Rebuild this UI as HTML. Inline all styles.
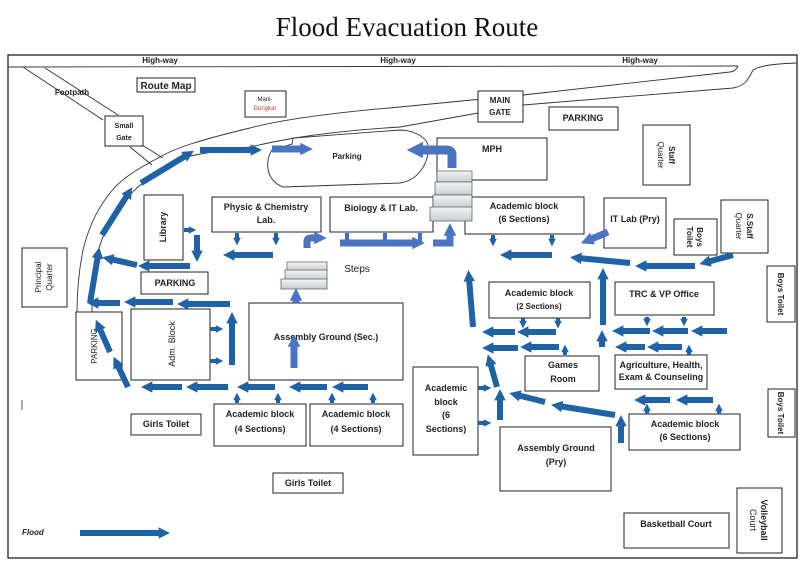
<!DOCTYPE html>
<html><head><meta charset="utf-8"><style>
body{margin:0;background:#fff;}
svg{display:block;font-family:"Liberation Sans",sans-serif;}
.b{fill:#fff;stroke:#222;stroke-width:1;}
.t{font-size:9px;font-weight:bold;fill:#222;text-anchor:middle;}
.ar{stroke:#1f62a6;stroke-width:6;fill:none;marker-end:url(#m);}
.as{stroke:#1f62a6;stroke-width:4;fill:none;marker-end:url(#m);}
.al{stroke:#4a74c0;stroke-width:7;fill:none;marker-end:url(#m2);}
.rd{fill:none;stroke:#333;stroke-width:0.9;}
</style></head><body>
<svg width="807" height="570" viewBox="0 0 807 570">
<defs>
<marker id="m" viewBox="0 0 10 10" refX="3" refY="5" markerWidth="1.9" markerHeight="1.9" orient="auto"><path d="M0,0L10,5L0,10z" fill="#1f62a6"/></marker>
<marker id="m2" viewBox="0 0 10 10" refX="3" refY="5" markerWidth="1.8" markerHeight="1.8" orient="auto"><path d="M0,0L10,5L0,10z" fill="#4a74c0"/></marker>
<linearGradient id="g" x1="0" y1="0" x2="0" y2="1"><stop offset="0" stop-color="#f4f4f4"/><stop offset="1" stop-color="#c8cdd6"/></linearGradient>
</defs>
<text x="407" y="36" font-family="Liberation Serif,serif" font-size="27" text-anchor="middle" fill="#111">Flood Evacuation Route</text>
<rect x="8" y="55" width="789" height="503" fill="none" stroke="#111" stroke-width="1.2"/>
<path class="rd" d="M8,67 L738,66"/>
<path class="rd" d="M753,70 C760,66 770,64 797,63"/>
<text x="160" y="63" class="t" style="font-size:8px">High-way</text>
<text x="398" y="63" class="t" style="font-size:8px">High-way</text>
<text x="640" y="63" class="t" style="font-size:8px">High-way</text>
<path class="rd" d="M738,66 C736,70 733,72 730,72 L523,95 L400,107 C330,113 280,120 250,128 C200,140 175,148 160,157 C135,170 120,180 110,193 C95,212 88,230 83,250 C79,270 77,290 77,312"/>
<path class="rd" d="M753,70 C748,80 745,86 733,88 L523,105 L400,127 C320,132 280,140 250,147 C210,152 190,155 177,160 C150,175 130,192 120,207 C108,225 100,240 97,257 C93,275 92,290 92,312"/>
<path class="rd" d="M23,67 L103,120 M45,68 L118,115 M130,147 L152,165 M142,145 L163,158"/>
<text x="72" y="95" class="t" style="font-size:8px">Footpath</text>
<path class="rd" d="M272,150 C265,160 265,180 283,187 L400,183 C420,180 430,160 428,145 C425,135 410,130 400,130 L293,138 L292,144 Z"/>
<text x="347" y="159" class="t" style="font-size:8px">Parking</text>
<rect class="b" x="137" y="78" width="58" height="14"/><text x="166" y="89" class="t" style="font-size:10px">Route Map</text>
<rect class="b" x="245" y="91" width="41" height="26" stroke="#999"/><text x="265" y="101" class="t" style="font-size:6px;font-weight:normal">Mani-</text><text x="265" y="110" class="t" style="font-size:6px;font-weight:normal;fill:#c33">Dungkar</text>
<rect class="b" x="105" y="116" width="38" height="30"/><text x="124" y="128" class="t" style="font-size:7px">Small</text><text x="124" y="140" class="t" style="font-size:7px">Gate</text>
<rect class="b" x="478" y="91" width="45" height="31"/><text x="500" y="103" class="t" style="font-size:8px">MAIN</text><text x="500" y="115" class="t" style="font-size:8px">GATE</text>
<rect class="b" x="549" y="107" width="69" height="23"/><text x="583" y="121" class="t">PARKING</text>
<rect class="b" x="437" y="138" width="110" height="42"/><text x="492" y="152" class="t">MPH</text>
<rect class="b" x="643" y="125" width="47" height="60"/><text transform="translate(666,155) rotate(90)" x="0" y="-3" class="t" style="font-size:8px">Staff</text><text transform="translate(666,155) rotate(90)" x="0" y="8" class="t" style="font-size:8px;font-weight:normal">Quarter</text>
<rect class="b" x="144" y="195" width="39" height="65"/><text transform="translate(163,227) rotate(-90)" y="3" class="t">Library</text>
<rect class="b" x="212" y="197" width="109" height="35"/><text x="266" y="210" class="t">Physic &amp; Chemistry</text><text x="266" y="223" class="t">Lab.</text>
<rect class="b" x="330" y="197" width="103" height="35"/><text x="381" y="211" class="t">Biology &amp; IT Lab.</text>
<rect class="b" x="465" y="197" width="119" height="37"/><text x="524" y="209" class="t">Academic block</text><text x="524" y="222" class="t">(6 Sections)</text>
<rect class="b" x="604" y="198" width="62" height="50"/><text x="635" y="222" class="t">IT Lab (Pry)</text>
<rect class="b" x="674" y="219" width="43" height="36"/><text transform="translate(695,237) rotate(90)" y="-2" class="t" style="font-size:8px">Boys</text><text transform="translate(695,237) rotate(90)" y="8" class="t" style="font-size:8px">Toilet</text>
<rect class="b" x="721" y="200" width="47" height="53"/><text transform="translate(744,226) rotate(90)" y="-3" class="t" style="font-size:8px">S.Staff</text><text transform="translate(744,226) rotate(90)" y="8" class="t" style="font-size:8px;font-weight:normal">Quarter</text>
<rect class="b" x="22" y="248" width="45" height="59"/><text transform="translate(44,277) rotate(-90)" y="-3" class="t" style="font-size:8px;font-weight:normal">Principal</text><text transform="translate(44,277) rotate(-90)" y="8" class="t" style="font-size:8px;font-weight:normal">Quarter</text>
<rect class="b" x="141" y="272" width="67" height="22"/><text x="175" y="286" class="t">PARKING</text>
<text x="357" y="272" class="t" style="font-size:10px;font-weight:normal">Steps</text>
<rect class="b" x="767" y="266" width="28" height="56"/><text transform="translate(781,294) rotate(90)" y="3" class="t" style="font-size:8px">Boys Toilet</text>
<rect class="b" x="76" y="312" width="46" height="68"/><text transform="translate(94,346) rotate(-90)" y="3" class="t" style="font-size:8px;font-weight:normal">PARKING</text>
<rect class="b" x="131" y="309" width="79" height="71"/><text transform="translate(172,344) rotate(-90)" y="3" class="t" style="font-size:9px;font-weight:normal">Adm. Block</text>
<rect class="b" x="249" y="303" width="154" height="77"/><text x="326" y="340" class="t">Assembly Ground (Sec.)</text>
<rect class="b" x="489" y="282" width="101" height="36"/><text x="539" y="296" class="t">Academic block</text><text x="539" y="309" class="t" style="font-size:8px">(2 Sections)</text>
<rect class="b" x="615" y="282" width="99" height="33"/><text x="664" y="297" class="t">TRC &amp; VP Office</text>
<rect class="b" x="525" y="356" width="74" height="35"/><text x="563" y="368" class="t">Games</text><text x="563" y="382" class="t">Room</text>
<rect class="b" x="615" y="355" width="92" height="34"/><text x="661" y="368" class="t">Agriculture, Health,</text><text x="661" y="380" class="t">Exam &amp; Counseling</text>
<rect class="b" x="413" y="367" width="65" height="88"/><text x="446" y="391" class="t">Academic</text><text x="446" y="405" class="t">block</text><text x="446" y="418" class="t">(6</text><text x="446" y="432" class="t">Sections)</text>
<rect class="b" x="500" y="427" width="111" height="64"/><text x="556" y="451" class="t">Assembly Ground</text><text x="556" y="465" class="t">(Pry)</text>
<rect class="b" x="629" y="414" width="111" height="36"/><text x="685" y="427" class="t">Academic block</text><text x="685" y="440" class="t">(6 Sections)</text>
<rect class="b" x="768" y="389" width="27" height="48"/><text transform="translate(781,413) rotate(90)" y="3" class="t" style="font-size:8px">Boys Toilet</text>
<rect class="b" x="131" y="414" width="70" height="21"/><text x="166" y="427" class="t">Girls Toilet</text>
<rect class="b" x="214" y="404" width="92" height="42"/><text x="260" y="417" class="t">Academic block</text><text x="260" y="432" class="t">(4 Sections)</text>
<rect class="b" x="310" y="404" width="93" height="42"/><text x="356" y="417" class="t">Academic block</text><text x="356" y="432" class="t">(4 Sections)</text>
<rect class="b" x="273" y="473" width="70" height="20"/><text x="308" y="486" class="t">Girls Toilet</text>
<rect class="b" x="624" y="513" width="105" height="35"/><text x="676" y="527" class="t">Basketball Court</text>
<rect class="b" x="737" y="488" width="45" height="65"/><text transform="translate(759,520) rotate(90)" y="-2" class="t">Volleyball</text><text transform="translate(759,520) rotate(90)" y="9" class="t" style="font-weight:normal">Court</text>
<line x1="22" y1="400" x2="22" y2="410" stroke="#555"/>
<text x="22" y="535" font-size="8" font-style="italic" font-weight="bold" fill="#222">Flood</text>
<g fill="url(#g)" stroke="#555" stroke-width="0.7">
<rect x="287" y="262" width="40" height="9"/><rect x="285" y="270" width="42" height="10"/><rect x="281" y="279" width="46" height="10"/>
<rect x="437" y="171" width="35" height="11"/><rect x="435" y="182" width="37" height="13"/><rect x="433" y="195" width="39" height="13"/><rect x="430" y="207" width="42" height="14"/>
</g>
<line class="ar" x1="80" y1="533" x2="162" y2="533"/>
<line class="ar" x1="200" y1="150" x2="254" y2="150"/>
<line class="ar" x1="141" y1="183" x2="187" y2="155"/>
<line class="ar" x1="102" y1="235" x2="128" y2="194"/>
<line class="ar" x1="90" y1="303" x2="98" y2="255"/>
<line class="ar" x1="137" y1="265" x2="110" y2="259"/>
<line class="ar" x1="190" y1="266" x2="146" y2="266"/>
<line class="ar" x1="120" y1="303" x2="95" y2="303"/>
<line class="ar" x1="173" y1="302" x2="132" y2="302"/>
<line class="ar" x1="230" y1="304" x2="185" y2="304"/>
<line class="as" x1="184" y1="230" x2="191" y2="230"/>
<line class="ar" x1="197" y1="235" x2="197" y2="254"/>
<line class="as" x1="237" y1="233" x2="237" y2="240"/>
<line class="as" x1="276" y1="233" x2="276" y2="240"/>
<line class="ar" x1="273" y1="255" x2="231" y2="255"/>
<path d="M307,248 L307,241 Q307,238 311,238 L318,238" class="al"/>
<path d="M347,233 L347,243 M420,233 L420,243 M385,233 L385,243" stroke="#3f6fbf" stroke-width="4"/>
<line class="al" x1="340" y1="243" x2="416" y2="243"/>
<path d="M433,243 L450,243 L450,232" class="al"/>
<path d="M452,168 L452,155 Q452,150 446,150 L418,150" class="al" style="stroke-width:9"/>
<line class="al" x1="272" y1="149" x2="304" y2="149"/>
<line class="as" x1="493" y1="235" x2="493" y2="241"/>
<line class="as" x1="552" y1="235" x2="552" y2="241"/>
<line class="ar" x1="552" y1="255" x2="508" y2="255"/>
<line class="al" x1="608" y1="232" x2="589" y2="240"/>
<line class="ar" x1="630" y1="263" x2="578" y2="258"/>
<line class="ar" x1="695" y1="266" x2="643" y2="266"/>
<line class="ar" x1="733" y1="255" x2="707" y2="262"/>
<line class="ar" x1="473" y1="327" x2="469" y2="278"/>
<line class="ar" x1="603" y1="325" x2="603" y2="276"/>
<line class="as" x1="647" y1="317" x2="647" y2="321"/>
<line class="as" x1="684" y1="317" x2="684" y2="321"/>
<line class="ar" x1="727" y1="331" x2="699" y2="331"/>
<line class="ar" x1="688" y1="331" x2="660" y2="331"/>
<line class="ar" x1="650" y1="331" x2="620" y2="331"/>
<line class="ar" x1="602" y1="347" x2="602" y2="338"/>
<line class="ar" x1="682" y1="347" x2="655" y2="347"/>
<line class="ar" x1="645" y1="347" x2="623" y2="347"/>
<line class="as" x1="689" y1="355" x2="689" y2="350"/>
<line class="as" x1="523" y1="318" x2="523" y2="323"/>
<line class="as" x1="558" y1="318" x2="558" y2="323"/>
<line class="ar" x1="556" y1="332" x2="525" y2="332"/>
<line class="ar" x1="515" y1="332" x2="490" y2="332"/>
<line class="ar" x1="559" y1="347" x2="528" y2="347"/>
<line class="ar" x1="518" y1="348" x2="490" y2="348"/>
<line class="as" x1="565" y1="355" x2="565" y2="350"/>
<line class="ar" x1="497" y1="387" x2="490" y2="362"/>
<line class="ar" x1="500" y1="420" x2="500" y2="397"/>
<line class="as" x1="478" y1="388" x2="486" y2="388"/>
<line class="as" x1="478" y1="423" x2="486" y2="423"/>
<line class="ar" x1="545" y1="402" x2="517" y2="395"/>
<line class="ar" x1="615" y1="415" x2="559" y2="406"/>
<line class="ar" x1="621" y1="443" x2="621" y2="423"/>
<line class="as" x1="647" y1="414" x2="647" y2="409"/>
<line class="as" x1="719" y1="414" x2="719" y2="409"/>
<line class="ar" x1="670" y1="400" x2="642" y2="400"/>
<line class="ar" x1="713" y1="400" x2="684" y2="400"/>
<line class="as" x1="210" y1="329" x2="218" y2="329"/>
<line class="as" x1="210" y1="361" x2="218" y2="361"/>
<line class="ar" x1="232" y1="365" x2="232" y2="320"/>
<line class="ar" x1="110" y1="352" x2="99" y2="327"/>
<line class="ar" x1="128" y1="387" x2="117" y2="364"/>
<line class="ar" x1="182" y1="387" x2="149" y2="387"/>
<line class="ar" x1="228" y1="387" x2="194" y2="387"/>
<line class="ar" x1="275" y1="387" x2="245" y2="387"/>
<line class="ar" x1="327" y1="387" x2="297" y2="387"/>
<line class="ar" x1="368" y1="387" x2="340" y2="387"/>
<line class="as" x1="237" y1="403" x2="237" y2="398"/>
<line class="as" x1="278" y1="403" x2="278" y2="398"/>
<line class="as" x1="332" y1="403" x2="332" y2="398"/>
<line class="as" x1="373" y1="403" x2="373" y2="398"/>
<line class="al" x1="294" y1="368" x2="294" y2="343"/>
<line class="al" x1="296" y1="303" x2="296" y2="297"/>
</svg>
</body></html>
